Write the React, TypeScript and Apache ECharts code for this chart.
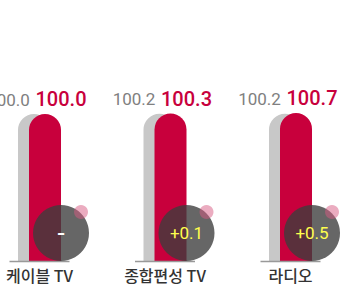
import React, { useEffect, useRef } from 'react';
import * as echarts from 'echarts';

const categories = ['케이블 TV', '종합편성 TV', '라디오'];
const prevValues = [100.0, 100.2, 100.2];
const currValues = [100.0, 100.3, 100.7];
const changeLabels = ['-', '+0.1', '+0.5'];

const RED = '#c8003c';
const GRAY = '#c8c8c8';

export default function App() {
  const ref = useRef<HTMLDivElement>(null);
  useEffect(() => {
    if (!ref.current) return;
    const chart = echarts.init(ref.current, undefined, { renderer: 'svg' });
    chart.setOption({
      animation: false,
      grid: {
        left: -23.25,
        right: -12.25,
        top: 84.6,
        bottom: 47,
        containLabel: false,
        outerBoundsMode: 'none',
      },
      xAxis: {
        type: 'category',
        data: categories,
        axisLine: { show: false },
        axisTick: { show: false },
        axisLabel: {
          margin: 6,
          fontSize: 16,
          fontWeight: 500,
          color: '#333',
          fontFamily: 'Noto Sans CJK KR',
          interval: 0,
        },
      },
      yAxis: { type: 'value', min: 0, max: 120, show: false },
      series: [
        {
          type: 'bar',
          data: prevValues,
          barWidth: 32,
          barGap: '-65.6%',
          itemStyle: { color: GRAY, borderRadius: [16, 16, 0, 0] },
          label: {
            show: true,
            position: 'top',
            distance: 6,
            offset: [-25.5, 0],
            fontSize: 17,
            color: '#808080',
            fontFamily: 'Roboto',
            formatter: (p: any) => p.value.toFixed(1),
          },
          z: 2,
        },
        {
          type: 'bar',
          data: currValues,
          barWidth: 32,
          itemStyle: { color: RED, borderRadius: [16, 16, 0, 0] },
          label: {
            show: true,
            position: 'top',
            distance: 5,
            offset: [16, 0],
            fontSize: 20,
            fontWeight: 500,
            color: RED,
            fontFamily: 'Roboto',
            formatter: (p: any) => p.value.toFixed(1),
          },
          z: 3,
        },
        {
          type: 'custom',
          data: changeLabels.map((_, i) => i),
          z: 5,
          renderItem: (params: any, api: any) => {
            const idx = api.value(0);
            const p = api.coord([idx, 0]);
            const cx = p[0] + 21.5;
            const cy = p[1] - 28;
            const label = changeLabels[idx];
            const isDash = label === '-';
            return {
              type: 'group',
              children: [
                {
                  type: 'line',
                  shape: { x1: p[0] - 30, y1: p[1] + 0.5, x2: p[0] + 30, y2: p[1] + 0.5 },
                  style: { stroke: '#999', lineWidth: 1.5 },
                },
                {
                  type: 'circle',
                  shape: { cx, cy, r: 28 },
                  style: { fill: 'rgba(61,61,61,0.79)' },
                },
                {
                  type: 'circle',
                  shape: { cx: cx + 20, cy: cy - 21, r: 7 },
                  style: { fill: 'rgba(215,90,130,0.5)' },
                },
                {
                  type: 'text',
                  style: {
                    x: cx,
                    y: cy,
                    text: label,
                    fill: isDash ? '#ffffff' : '#ffff4d',
                    fontSize: isDash ? 26 : 17,
                    fontFamily: 'Roboto',
                    align: 'center',
                    verticalAlign: 'middle',
                  },
                },
              ],
            };
          },
        },
      ],
    });
    return () => chart.dispose();
  }, []);
  return (
    <div
      ref={ref}
      style={{ position: 'fixed', left: 0, top: 0, width: 341, height: 308, background: '#fff' }}
    />
  );
}
